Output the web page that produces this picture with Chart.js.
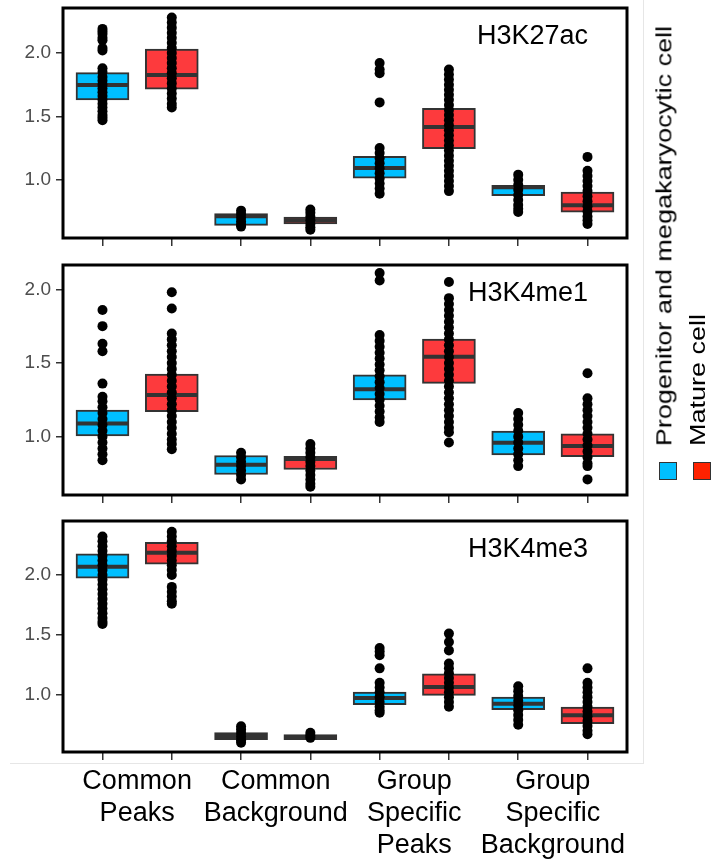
<!DOCTYPE html>
<html>
<head>
<meta charset="utf-8">
<script src="https://cdn.jsdelivr.net/npm/chart.js@4.4.1/dist/chart.umd.min.js"></script>
<style>
  html, body { margin: 0; padding: 0; background: #fff; }
  #wrap { position: relative; width: 712px; height: 859px; overflow: hidden; font-family: "Liberation Sans", Arial, sans-serif; }
  #wrap canvas { position: absolute; left: 0; }
  .plotEdge { position: absolute; left: 10px; top: 0; width: 633px; height: 763px; border-right: 1px solid #e6e6e6; border-bottom: 1px solid #e6e6e6; }
  .key { position: absolute; top: 462px; width: 16px; height: 16px; border: 1px solid #333; }
  .keyText { position: absolute; bottom: 413px; writing-mode: vertical-rl; transform: rotate(180deg) scaleX(0.82); font-size: 27px; line-height: 27px; white-space: nowrap; color: #000; }
</style>
</head>
<body>
<div id="wrap">
  <div class="plotEdge"></div>
  <canvas id="p0" width="712" height="250" style="top:0px"></canvas>
  <canvas id="p1" width="712" height="260" style="top:250px"></canvas>
  <canvas id="p2" width="712" height="349" style="top:510px"></canvas>
  <div class="key" style="left:659px; background:#00bfff"></div>
  <div class="key" style="left:693px; background:#ff2200"></div>
  <div class="keyText" id="key0" style="left:651px"></div>
  <div class="keyText" id="key1" style="left:685px"></div>
</div>
<script>
const markNames = ['H3K27ac', 'H3K4me1', 'H3K4me3'];
const groupNames = ['Progenitor and megakaryocytic cell', 'Mature cell'];
const categoryLabels = [['Common', 'Peaks'], ['Common', 'Background'], ['Group', 'Specific', 'Peaks'], ['Group', 'Specific', 'Background']];
const categoryCenters = [1.5, 3.5, 5.5, 7.5];
const progX = [1, 3, 5, 7];
const matureX = [2, 4, 6, 8];
const yTicks = [1.0, 1.5, 2.0];
const yRanges = [[0.54, 2.355], [0.604, 2.165], [0.522, 2.45]];

// boxes: [lower quartile, median, upper quartile] per category
const h3k27acProgBox = [[1.63, 1.748, 1.845], [0.64, 0.712, 0.732], [1.013, 1.092, 1.184], [0.874, 0.94, 0.955]];
const h3k27acMatureBox = [[1.714, 1.827, 2.03], [0.651, 0.68, 0.706], [1.244, 1.415, 1.564], [0.743, 0.798, 0.903]];
const h3k4me1ProgBox = [[1.005, 1.09, 1.181], [0.743, 0.81, 0.872], [1.249, 1.321, 1.419], [0.876, 0.959, 1.038]];
const h3k4me1MatureBox = [[1.17, 1.283, 1.425], [0.777, 0.848, 0.867], [1.362, 1.543, 1.663], [0.864, 0.937, 1.02]];
const h3k4me3ProgBox = [[1.972, 2.069, 2.175], [0.625, 0.655, 0.685], [0.917, 0.972, 1.022], [0.875, 0.925, 0.981]];
const h3k4me3MatureBox = [[2.089, 2.186, 2.272], [0.625, 0.646, 0.667], [0.994, 1.064, 1.175], [0.758, 0.828, 0.897]];

// individual values per category
const h3k27acProgPts = [
  [2.19, 2.17, 2.15, 2.12, 2.10, 2.04, 2.02, 1.88, 1.85, 1.81, 1.78, 1.75, 1.72, 1.69, 1.66, 1.63, 1.60, 1.57, 1.54, 1.51, 1.49, 1.47],
  [0.756, 0.73, 0.70, 0.67, 0.645, 0.63],
  [1.92, 1.87, 1.84, 1.61, 1.25, 1.21, 1.17, 1.13, 1.09, 1.05, 1.01, 0.97, 0.93, 0.89],
  [1.04, 1.00, 0.96, 0.92, 0.88, 0.84, 0.80, 0.77, 0.745]
];
const h3k27acMaturePts = [
  [2.28, 2.24, 2.20, 2.16, 2.12, 2.08, 2.04, 2.00, 1.96, 1.92, 1.88, 1.84, 1.80, 1.76, 1.72, 1.68, 1.64, 1.60, 1.57],
  [0.764, 0.74, 0.71, 0.68, 0.65, 0.625, 0.606],
  [1.87, 1.83, 1.79, 1.75, 1.71, 1.67, 1.63, 1.59, 1.55, 1.51, 1.47, 1.43, 1.39, 1.35, 1.31, 1.27, 1.23, 1.19, 1.15, 1.11, 1.07, 1.03, 0.99, 0.95, 0.91],
  [1.18, 1.07, 1.03, 0.99, 0.95, 0.91, 0.87, 0.83, 0.79, 0.75, 0.71, 0.68, 0.65]
];
const h3k4me1ProgPts = [
  [1.86, 1.75, 1.63, 1.58, 1.36, 1.27, 1.24, 1.20, 1.16, 1.12, 1.08, 1.04, 1.00, 0.96, 0.92, 0.88, 0.84],
  [0.89, 0.86, 0.83, 0.80, 0.77, 0.74, 0.71],
  [2.11, 2.06, 1.69, 1.65, 1.61, 1.57, 1.53, 1.49, 1.45, 1.41, 1.37, 1.33, 1.29, 1.25, 1.21, 1.17, 1.13, 1.10],
  [1.16, 1.12, 1.08, 1.04, 1.00, 0.96, 0.92, 0.88, 0.84, 0.80]
];
const h3k4me1MaturePts = [
  [1.98, 1.87, 1.70, 1.66, 1.62, 1.58, 1.54, 1.50, 1.46, 1.42, 1.38, 1.34, 1.30, 1.26, 1.22, 1.18, 1.14, 1.10, 1.06, 1.02, 0.98, 0.95, 0.915],
  [0.95, 0.92, 0.89, 0.86, 0.83, 0.80, 0.77, 0.74, 0.71, 0.68, 0.66],
  [2.05, 1.94, 1.90, 1.86, 1.82, 1.78, 1.74, 1.70, 1.66, 1.62, 1.58, 1.54, 1.50, 1.46, 1.42, 1.38, 1.34, 1.30, 1.26, 1.22, 1.18, 1.14, 1.10, 1.06, 1.03, 0.96],
  [1.43, 1.26, 1.22, 1.18, 1.14, 1.10, 1.06, 1.02, 0.98, 0.94, 0.90, 0.86, 0.82, 0.80, 0.71]
];
const h3k4me3ProgPts = [
  [2.32, 2.28, 2.24, 2.20, 2.16, 2.12, 2.08, 2.04, 2.00, 1.96, 1.92, 1.88, 1.84, 1.80, 1.76, 1.72, 1.68, 1.64, 1.61, 1.59],
  [0.736, 0.71, 0.68, 0.65, 0.62, 0.60],
  [1.39, 1.36, 1.33, 1.22, 1.10, 1.06, 1.02, 0.98, 0.94, 0.90, 0.87, 0.85],
  [1.07, 1.03, 0.99, 0.95, 0.91, 0.87, 0.83, 0.79, 0.75]
];
const h3k4me3MaturePts = [
  [2.36, 2.32, 2.28, 2.24, 2.20, 2.16, 2.12, 2.08, 2.04, 2.00, 1.90, 1.86, 1.82, 1.78, 1.76],
  [0.683, 0.66, 0.64],
  [1.51, 1.44, 1.37, 1.26, 1.22, 1.18, 1.14, 1.10, 1.06, 1.02, 0.98, 0.94, 0.90],
  [1.22, 1.10, 1.06, 1.02, 0.98, 0.94, 0.90, 0.86, 0.82, 0.78, 0.74, 0.70, 0.67]
];

const panels = [
  { prog: h3k27acProgBox, mature: h3k27acMatureBox, progPts: h3k27acProgPts, maturePts: h3k27acMaturePts },
  { prog: h3k4me1ProgBox, mature: h3k4me1MatureBox, progPts: h3k4me1ProgPts, maturePts: h3k4me1MaturePts },
  { prog: h3k4me3ProgBox, mature: h3k4me3MatureBox, progPts: h3k4me3ProgPts, maturePts: h3k4me3MaturePts }
];

const FONT = '"Liberation Sans", Arial, sans-serif';
const BLUE = '#00bfff';
const RED = '#fd3a3d';

document.getElementById('key0').textContent = groupNames[0];
document.getElementById('key1').textContent = groupNames[1];

// canvas geometry for each panel
const layouts = [
  { padTop: 8, xHeight: 12 },
  { padTop: 15, xHeight: 15 },
  { padTop: 11, xHeight: 12, labelHeight: 95 }
];

function boxSet(xs, boxes, color) {
  return {
    type: 'bar',
    data: xs.map((x, i) => ({ x: x, y: [boxes[i][0], boxes[i][2]] })),
    backgroundColor: color,
    borderColor: '#333',
    borderWidth: 2,
    borderSkipped: false,
    barThickness: 53,
    grouped: false,
    order: 3
  };
}

function medianSet(xs, boxes) {
  return {
    type: 'scatter',
    data: xs.map((x, i) => ({ x: x, y: boxes[i][1] })),
    pointStyle: 'line',
    pointRadius: 25.5,
    pointHoverRadius: 25.5,
    pointBorderColor: '#333',
    pointBorderWidth: 4,
    order: 2
  };
}

function pointSet(xs, pts) {
  const data = [];
  xs.forEach((x, i) => pts[i].forEach(v => data.push({ x: x, y: v })));
  return {
    type: 'scatter',
    data: data,
    pointRadius: 5,
    pointHoverRadius: 5,
    pointBackgroundColor: '#000',
    pointBorderWidth: 0,
    order: 1
  };
}

// keep tick labels from pushing the plot area inwards
function noEdgePadding(s) {
  s.paddingTop = 0;
  s.paddingBottom = 0;
  s.paddingLeft = 0;
  s.paddingRight = 0;
}

// frame around the plot area and the mark name in its corner
const panelDecor = {
  id: 'panelDecor',
  afterDatasetsDraw(chart, args, opts) {
    const { ctx, chartArea: a } = chart;
    ctx.save();
    ctx.lineWidth = 3;
    ctx.strokeStyle = '#000';
    ctx.strokeRect(a.left, a.top, a.right - a.left, a.bottom - a.top);
    ctx.font = '27px ' + FONT;
    ctx.fillStyle = '#000';
    ctx.textAlign = 'right';
    ctx.textBaseline = 'alphabetic';
    ctx.fillText(opts.title, a.right - 39, a.top + 36);
    ctx.restore();
  }
};

panels.forEach((p, k) => {
  const L = layouts[k];
  const scales = {
    x: {
      type: 'linear',
      min: 0.43,
      max: 8.57,
      offset: false,
      weight: 0,
      afterBuildTicks: s => { s.ticks = progX.concat(matureX).sort((a, b) => a - b).map(v => ({ value: v })); },
      afterFit: s => { s.height = L.xHeight; noEdgePadding(s); },
      ticks: { display: false },
      grid: { offset: false, drawOnChartArea: false, tickLength: 8, color: '#333', lineWidth: 1.5 },
      border: { display: false }
    },
    y: {
      type: 'linear',
      min: yRanges[k][0],
      max: yRanges[k][1],
      afterBuildTicks: s => { s.ticks = yTicks.map(v => ({ value: v })); },
      afterFit: s => { s.width = 63; noEdgePadding(s); },
      ticks: { callback: v => v.toFixed(1), color: '#4d4d4d', font: { size: 19, family: FONT }, padding: 5 },
      grid: { drawOnChartArea: false, tickLength: 7, color: '#333', lineWidth: 1.5 },
      border: { display: false }
    }
  };
  if (L.labelHeight) {
    scales.x2 = {
      type: 'linear',
      position: 'bottom',
      weight: 1,
      min: 0.43,
      max: 8.57,
      offset: false,
      afterBuildTicks: s => { s.ticks = categoryCenters.map(v => ({ value: v })); },
      afterFit: s => { s.height = L.labelHeight; noEdgePadding(s); },
      ticks: { callback: (v, i) => categoryLabels[i], color: '#000', font: { size: 27, family: FONT, lineHeight: 1.2 }, padding: 1, maxRotation: 0, minRotation: 0, autoSkip: false },
      grid: { display: false, drawTicks: false, offset: false },
      border: { display: false }
    };
  }

  new Chart(document.getElementById('p' + k), {
    type: 'bar',
    data: {
      datasets: [
        boxSet(progX, p.prog, BLUE),
        boxSet(matureX, p.mature, RED),
        medianSet(progX.concat(matureX), p.prog.concat(p.mature)),
        pointSet(progX, p.progPts),
        pointSet(matureX, p.maturePts)
      ]
    },
    options: {
      responsive: false,
      animation: false,
      layout: { autoPadding: false, padding: { top: L.padTop, right: 85, left: 0, bottom: 0 } },
      plugins: {
        legend: { display: false },
        tooltip: { enabled: false },
        panelDecor: { title: markNames[k] }
      },
      scales: scales
    },
    plugins: [panelDecor]
  });
});
</script>
</body>
</html>
